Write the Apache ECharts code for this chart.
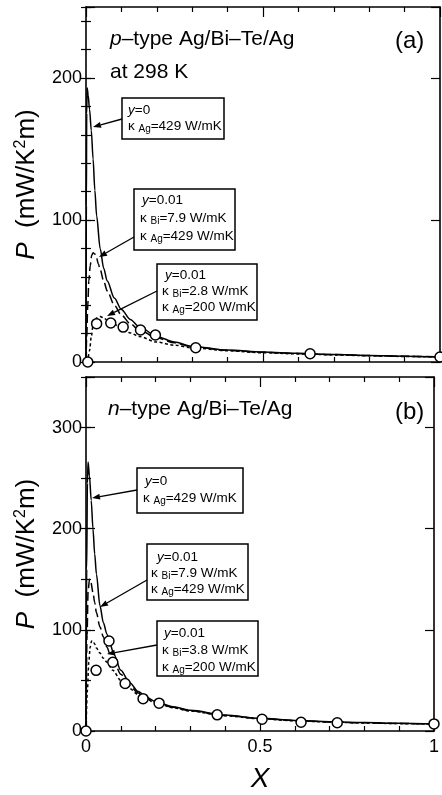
<!DOCTYPE html>
<html><head><meta charset="utf-8">
<script src="https://cdn.jsdelivr.net/npm/echarts@6/dist/echarts.min.js"></script>
<style>html,body{margin:0;padding:0;background:#fff}#c{width:442px;height:795px}</style>
</head><body><div id="c"></div><script>
// ---------- data: panel (a) p-type ----------
const aX_y0 = [0, 0.001, 0.002, 0.003, 0.004, 0.006, 0.01, 0.015, 0.02, 0.025, 0.03, 0.04, 0.05, 0.06, 0.08, 0.1, 0.125, 0.15, 0.2, 0.25, 0.3, 0.4, 0.5, 0.6, 0.7, 0.8, 0.9, 1.0];
const aP_y0 = [0, 110, 175, 193, 192, 188, 178, 163, 143, 121, 103, 80, 66, 57, 45, 37, 30, 25, 18, 14, 11, 8.4, 7, 6.1, 5.3, 4.6, 4.1, 3.6];
const aX_d  = [0, 0.002, 0.005, 0.008, 0.012, 0.016, 0.02, 0.025, 0.03, 0.035, 0.04, 0.05, 0.06, 0.08, 0.1, 0.125, 0.15, 0.2, 0.25, 0.3, 0.4, 0.5, 0.6, 0.7, 0.8, 0.9, 1.0];
const aP_d  = [0, 18, 40, 57, 68, 75, 77, 76, 73, 69, 65, 57, 50, 40, 33, 27, 22.5, 17, 13.5, 10.8, 8.2, 6.8, 5.9, 5.2, 4.5, 4, 3.6];
const aX_s  = [0, 0.005, 0.01, 0.015, 0.02, 0.025, 0.03, 0.04, 0.05, 0.06, 0.08, 0.1, 0.125, 0.15, 0.2, 0.25, 0.3, 0.4, 0.5, 0.6, 0.7, 0.8, 0.9, 1.0];
const aP_s  = [0, 2, 8, 18, 26, 29.5, 31, 32, 31, 29.5, 26.5, 23.5, 20.5, 18, 14, 11.8, 10, 7.9, 6.5, 5.7, 5, 4.4, 3.9, 3.5];
const aX_o  = [0.005, 0.03, 0.07, 0.105, 0.154, 0.196, 0.31, 0.633, 1.0];
const aP_o  = [0, 27, 27.5, 24.6, 22.5, 19, 10, 5.8, 3.5];
// ---------- data: panel (b) n-type ----------
const bX_y0 = [0, 0.002, 0.004, 0.006, 0.01, 0.015, 0.02, 0.025, 0.03, 0.04, 0.05, 0.06, 0.07, 0.08, 0.1, 0.125, 0.15, 0.175, 0.2, 0.25, 0.3, 0.4, 0.5, 0.6, 0.7, 0.8, 0.9, 1.0];
const bP_y0 = [0, 160, 245, 266, 252, 228, 200, 175, 155, 124, 107, 96, 85, 76, 60, 48, 39, 33, 29, 24, 20.5, 15.8, 12.5, 10.5, 9.2, 8.3, 7.6, 7];
const bX_d  = [0, 0.003, 0.006, 0.01, 0.014, 0.02, 0.025, 0.03, 0.04, 0.05, 0.06, 0.07, 0.08, 0.1, 0.125, 0.15, 0.2, 0.25, 0.3, 0.4, 0.5, 0.6, 0.7, 0.8, 0.9, 1.0];
const bP_d  = [0, 95, 138, 150, 147, 137, 127, 117, 103, 93, 83, 75, 69, 56, 45, 37.5, 28, 23.5, 20, 15.3, 12.3, 10.3, 9, 8.1, 7.4, 6.9];
const bX_s  = [0, 0.004, 0.008, 0.012, 0.016, 0.02, 0.025, 0.03, 0.04, 0.05, 0.06, 0.077, 0.1, 0.125, 0.15, 0.2, 0.25, 0.3, 0.4, 0.5, 0.6, 0.7, 0.8, 0.9, 1.0];
const bP_s  = [0, 40, 68, 83, 89, 89, 86, 82, 77, 72, 68, 60, 50, 42, 36, 28, 23, 19.6, 15, 12.1, 10.1, 8.9, 7.9, 7.3, 6.8];
const bX_o  = [0, 0.029, 0.066, 0.077, 0.1125, 0.164, 0.21, 0.377, 0.506, 0.618, 0.722, 1.0];
const bP_o  = [0, 60, 89, 68, 47, 32, 27.5, 16, 11.6, 8.6, 8.2, 7];
// ---------- tick labels ----------
const xTicks  = ['0', '0.5', '1'];
const yTicksA = ['0', '100', '200'];
const yTicksB = ['0', '100', '200', '300'];

const BLACK = '#000';
const FF = '"Liberation Sans", Arial, Helvetica, sans-serif';
const zip = (xs, ys) => xs.map((x, i) => [x, ys[i]]);

const chart = echarts.init(document.getElementById('c'));

function xAxes(gi, showLabels) {
  const base = {
    gridIndex: gi, type: 'value', min: 0, max: 1, interval: 0.5,
    axisLine: { show: true, onZero: false, lineStyle: { color: BLACK, width: 1.6 } },
    axisTick: { show: true, inside: true, length: 10, lineStyle: { color: BLACK, width: 1.2 } },
    minorTick: { show: true, splitNumber: 5, length: 5, lineStyle: { color: BLACK, width: 1.2 } },
    splitLine: { show: false }, minorSplitLine: { show: false }
  };
  const bottom = Object.assign({}, base, {
    position: 'bottom',
    axisLabel: showLabels ? {
      show: true, color: BLACK, fontSize: 18, fontFamily: FF, margin: 7,
      formatter: v => xTicks[Math.round(v * 2)] || ''
    } : { show: false }
  });
  if (showLabels) {
    bottom.name = 'X';
    bottom.nameLocation = 'middle';
    bottom.nameGap = 34;
    bottom.nameTextStyle = { fontSize: 28, fontStyle: 'italic', fontFamily: FF, color: BLACK };
  }
  const top = Object.assign({}, base, { position: 'top', axisLabel: { show: false } });
  return [bottom, top];
}

function yAxes(gi, max, minorInt, labels) {
  const tick = (len) => ({ show: true, inside: true, length: len, lineStyle: { color: BLACK, width: 1.2 } });
  const common = { gridIndex: gi, type: 'value', min: 0, max: max, splitLine: { show: false } };
  const leftMajor = Object.assign({}, common, {
    position: 'left', interval: 100,
    axisLine: { show: true, onZero: false, lineStyle: { color: BLACK, width: 1.6 } },
    axisTick: tick(9),
    axisLabel: { show: true, color: BLACK, fontSize: 18, fontFamily: FF, margin: 4,
      formatter: v => (v % 100 === 0 ? (labels[v / 100] || '') : '') },
    name: '{i|P}{n|  (mW/K}{s|2}{n|m)}',
    nameLocation: 'middle', nameRotate: 90, nameGap: 46,
    nameTextStyle: {
      color: BLACK, fontSize: 26, fontFamily: FF,
      rich: {
        i: { fontSize: 26, fontFamily: FF, fontStyle: 'italic', color: BLACK, verticalAlign: 'bottom' },
        n: { fontSize: 26, fontFamily: FF, color: BLACK, verticalAlign: 'bottom' },
        s: { fontSize: 16, fontFamily: FF, color: BLACK, verticalAlign: 'bottom', padding: [0, 0, 11, 0] }
      }
    }
  });
  const leftMinor = Object.assign({}, common, {
    position: 'left', interval: minorInt, axisLine: { show: false }, axisTick: tick(5), axisLabel: { show: false }
  });
  const rightMajor = Object.assign({}, common, {
    position: 'right', interval: 100,
    axisLine: { show: true, onZero: false, lineStyle: { color: BLACK, width: 1.6 } },
    axisTick: tick(9), axisLabel: { show: false }
  });
  const rightMinor = Object.assign({}, common, {
    position: 'right', interval: minorInt, axisLine: { show: false }, axisTick: tick(5), axisLabel: { show: false }
  });
  return [leftMajor, leftMinor, rightMajor, rightMinor];
}

function lineSeries(xi, yi, xs, ys, type) {
  return {
    type: 'line', xAxisIndex: xi, yAxisIndex: yi, data: zip(xs, ys),
    showSymbol: false, symbol: 'none', smooth: 0.3, smoothMonotone: 'x',
    lineStyle: { color: BLACK, width: 1.5, type: type }, z: 3, silent: true
  };
}
function dotSeries(xi, yi, xs, ys) {
  return {
    type: 'scatter', xAxisIndex: xi, yAxisIndex: yi, data: zip(xs, ys),
    symbol: 'circle', symbolSize: 10,
    itemStyle: { color: '#fff', borderColor: BLACK, borderWidth: 1.5, opacity: 1 }, z: 5, silent: true
  };
}

// ---------- annotations ----------
const G = [];
const RICH = {
  m: { fontSize: 13.5, fontFamily: FF, fill: BLACK, verticalAlign: 'bottom', padding: [0, 0, 1, 0] },
  i: { fontSize: 13.5, fontFamily: FF, fontStyle: 'italic', fill: BLACK, verticalAlign: 'bottom', padding: [0, 0, 1, 0] },
  s: { fontSize: 10, fontFamily: FF, fill: BLACK, verticalAlign: 'bottom' }
};
const TRICH = {
  m: { fontSize: 21, fontFamily: FF, fill: BLACK },
  i: { fontSize: 21, fontFamily: FF, fontStyle: 'italic', fill: BLACK }
};
function box(x, y, w, h) {
  G.push({ type: 'rect', shape: { x, y, width: w, height: h }, style: { fill: '#fff', stroke: BLACK, lineWidth: 1.5 }, z: 100 });
}
function txt(x, y, text, rich) {
  G.push({ type: 'text', x, y, style: { text, rich: rich || RICH, fill: BLACK, fontFamily: FF, fontSize: 14, verticalAlign: 'middle', align: 'left' }, z: 101 });
}
function arrow(x1, y1, x2, y2) {
  const dx = x2 - x1, dy = y2 - y1, L = Math.hypot(dx, dy);
  const ux = dx / L, uy = dy / L, hl = 8, hw = 3;
  const bx = x2 - ux * hl, by = y2 - uy * hl;
  G.push({ type: 'line', shape: { x1, y1, x2: bx, y2: by }, style: { stroke: BLACK, lineWidth: 1.3 }, z: 102 });
  G.push({ type: 'polygon', shape: { points: [[x2, y2], [bx - uy * hw, by + ux * hw], [bx + uy * hw, by - ux * hw]] }, style: { fill: BLACK }, z: 102 });
}

// panel (a)
txt(110, 39, '{i|p}{m|–type Ag/Bi–Te/Ag}', TRICH);
txt(110, 72, '{m|at 298 K}', TRICH);
G.push({ type: 'text', x: 395, y: 41, style: { text: '(a)', fill: BLACK, fontFamily: FF, fontSize: 24, verticalAlign: 'middle' }, z: 101 });
box(122, 98, 102, 41);
txt(128, 111, '{i|y}{m|=0}');
txt(128, 127, '{m|κ }{s|Ag}{m|=429 W/mK}');
arrow(122, 119, 93, 127);
box(134, 189, 101, 61);
txt(142, 201, '{i|y}{m|=0.01}');
txt(140, 219, '{m|κ }{s|Bi}{m|=7.9 W/mK}');
txt(140, 237, '{m|κ }{s|Ag}{m|=429 W/mK}');
arrow(134, 237, 99, 257);
box(157, 264, 100, 56);
txt(165, 276, '{i|y}{m|=0.01}');
txt(162, 292, '{m|κ }{s|Bi}{m|=2.8 W/mK}');
txt(162, 308, '{m|κ }{s|Ag}{m|=200 W/mK}');
arrow(157, 291, 107, 316);

// panel (b)
txt(108, 409, '{i|n}{m|–type Ag/Bi–Te/Ag}', TRICH);
G.push({ type: 'text', x: 395, y: 412, style: { text: '(b)', fill: BLACK, fontFamily: FF, fontSize: 24, verticalAlign: 'middle' }, z: 101 });
box(137, 468, 106, 45);
txt(145, 482, '{i|y}{m|=0}');
txt(143, 499, '{m|κ }{s|Ag}{m|=429 W/mK}');
arrow(137, 490, 92, 498);
box(147, 544, 101, 56);
txt(157, 558, '{i|y}{m|=0.01}');
txt(151, 574, '{m|κ }{s|Bi}{m|=7.9 W/mK}');
txt(151, 590, '{m|κ }{s|Ag}{m|=429 W/mK}');
arrow(147, 580, 100, 607);
box(157, 621, 101, 55);
txt(164, 634, '{i|y}{m|=0.01}');
txt(162, 651, '{m|κ }{s|Bi}{m|=3.8 W/mK}');
txt(162, 668, '{m|κ }{s|Ag}{m|=200 W/mK}');
arrow(157, 645, 107, 654);

const option = {
  animation: false,
  backgroundColor: '#fff',
  grid: [
    { left: 86, top: 7, width: 354, height: 355, containLabel: false },
    { left: 86, top: 377, width: 354, height: 354, containLabel: false }
  ],
  xAxis: [].concat(xAxes(0, false), xAxes(1, true)),
  yAxis: [].concat(yAxes(0, 250, 20, yTicksA), yAxes(1, 350, 50, yTicksB)),
  series: [
    lineSeries(0, 0, aX_y0, aP_y0, 'solid'),
    lineSeries(0, 0, aX_d, aP_d, [9, 4]),
    lineSeries(0, 0, aX_s, aP_s, [3, 2.5]),
    dotSeries(0, 0, aX_o, aP_o),
    lineSeries(2, 4, bX_y0, bP_y0, 'solid'),
    lineSeries(2, 4, bX_d, bP_d, [9, 4]),
    lineSeries(2, 4, bX_s, bP_s, [3, 2.5]),
    dotSeries(2, 4, bX_o, bP_o)
  ],
  graphic: { elements: G }
};
chart.setOption(option);
</script></body></html>
